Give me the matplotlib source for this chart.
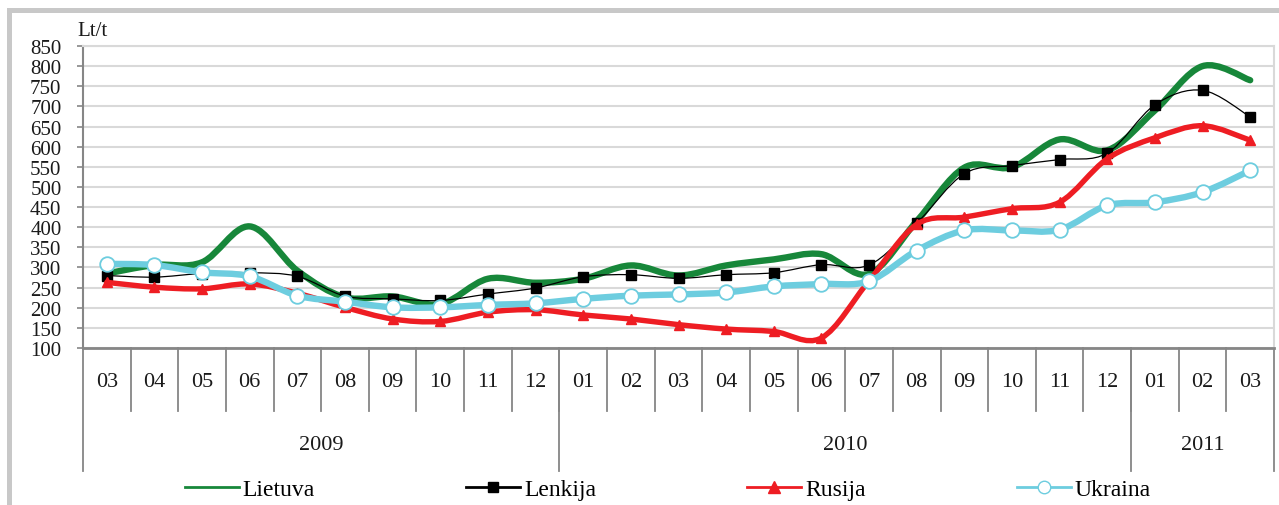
import numpy as np
import matplotlib.pyplot as plt
from matplotlib.path import Path
from matplotlib.patches import PathPatch, Rectangle
from matplotlib.lines import Line2D
import matplotlib.transforms as mtransforms

plt.rcParams['font.family'] = ['Liberation Serif', 'DejaVu Serif']

# data: prices Lt/t, 2009-03 .. 2011-03
months = ['03', '04', '05', '06', '07', '08', '09', '10', '11', '12',
          '01', '02', '03', '04', '05', '06', '07', '08', '09', '10', '11', '12',
          '01', '02', '03']
years = ['2009'] * 10 + ['2010'] * 12 + ['2011'] * 3

lietuva = [285, 306, 313, 402, 292, 226, 228, 209, 272, 262,
           272, 305, 280, 305, 320, 333, 284, 415,
           548, 549, 618, 591, 690, 800, 765]
lenkija = [280, 276, 285, 287, 278, 229, 222, 218, 234, 249,
           277, 282, 273, 282, 287, 307, 306, 410,
           533, 553, 568, 584, 704, 740, 674]
rusija = [263, 251, 247, 259, 236, 201, 172, 166, 189, 195,
          182, 172, 158, 147, 141, 125, 267, 407,
          425, 446, 462, 570, 622, 652, 616]
ukraina = [309, 306, 288, 278, 230, 215, 201, 201, 207, 211,
           222, 230, 233, 238, 253, 259, 266, 342,
           392, 392, 394, 454, 462, 487, 541]

C_GREEN = '#17873a'
C_RED = '#ee1d23'
C_CYAN = '#6dcddf'


def smooth_path(y):
    # bezier through the points, like the "smoothed line" of spreadsheet charts
    x = np.arange(len(y), dtype=float)
    y = np.asarray(y, dtype=float)
    pts = np.column_stack([x, y])
    verts = [pts[0]]
    codes = [Path.MOVETO]
    n = len(pts)
    for i in range(n - 1):
        p0 = pts[i - 1] if i > 0 else pts[i]
        p3 = pts[i + 2] if i + 2 < n else pts[i + 1]
        c1 = pts[i] + (pts[i + 1] - p0) / 6.0
        c2 = pts[i + 1] - (p3 - pts[i]) / 6.0
        verts += [c1, c2, pts[i + 1]]
        codes += [Path.CURVE4] * 3
    return Path(verts, codes)


fig = plt.figure(figsize=(12.79, 5.06), dpi=100)
ax = fig.add_axes([83 / 1279, 157 / 506, 1191 / 1279, 302 / 506])

x = np.arange(len(months))

series = [
    (lietuva, C_GREEN, 4.6, None, {}),
    (lenkija, 'black', 0.9, 's', dict(ms=7, mfc='black', mec='black')),
    (rusija, C_RED, 3.9, '^', dict(ms=6.5, mfc=C_RED, mec=C_RED)),
    (ukraina, C_CYAN, 4.6, 'o', dict(ms=10.5, mfc='white', mec=C_CYAN, mew=1.3)),
]
for k, (vals, col, lw, mk, mkw) in enumerate(series):
    ax.add_patch(PathPatch(smooth_path(vals), fill=False, edgecolor=col,
                           lw=lw, capstyle='round', joinstyle='round', zorder=3 + k))
    if mk:
        ax.plot(x, vals, linestyle='none', marker=mk, zorder=3 + k + 0.5, **mkw)

ax.set_xlim(-0.5, len(months) - 0.5)
ax.set_ylim(100, 850)
ax.set_yticks(np.arange(100, 851, 50))
ax.yaxis.grid(True, color='#d9d9d9', lw=1.5)
ax.set_axisbelow(True)
ax.tick_params(axis='y', length=4.5, width=1.2, color='#868686', pad=11,
               labelsize=15, labelcolor='#1a1a1a')
ax.set_xticks([])

for s in ['top', 'right']:
    ax.spines[s].set_color('#d9d9d9')
    ax.spines[s].set_linewidth(1.5)
ax.spines['left'].set_color('#868686')
ax.spines['left'].set_linewidth(1.5)
ax.spines['bottom'].set_color('#868686')
ax.spines['bottom'].set_linewidth(2)

ax.text(-0.005, 1.02, 'Lt/t', transform=ax.transAxes, ha='left', va='bottom',
        fontsize=15, color='#1a1a1a')

# two-level category axis
trans = mtransforms.blended_transform_factory(ax.transData, ax.transAxes)
for i in range(1, len(months)):
    ax.plot([i - 0.5, i - 0.5], [0, -0.209], color='#868686', lw=1.3,
            transform=trans, clip_on=False)
for i, m in enumerate(months):
    ax.text(i, -0.112, m, transform=trans, ha='center', va='center',
            fontsize=16, color='#1a1a1a')

bounds = [-0.5]
for i in range(1, len(years)):
    if years[i] != years[i - 1]:
        bounds.append(i - 0.5)
bounds.append(len(years) - 0.5)
for b in bounds:
    ax.plot([b, b], [0, -0.407], color='#868686', lw=1.3,
            transform=trans, clip_on=False)
for a, b in zip(bounds[:-1], bounds[1:]):
    ax.text((a + b) / 2, -0.318, years[int(a + 0.5)], transform=trans,
            ha='center', va='center', fontsize=16, color='#1a1a1a')

handles = [
    Line2D([], [], color=C_GREEN, lw=2),
    Line2D([], [], color='black', lw=2, marker='s', ms=7.5),
    Line2D([], [], color=C_RED, lw=2, marker='^', ms=8),
    Line2D([], [], color=C_CYAN, lw=2, marker='o', ms=9, mfc='white', mec=C_CYAN),
]
ax.legend(handles, ['Lietuva', 'Lenkija', 'Rusija', 'Ukraina'], ncol=4,
          loc='center', bbox_to_anchor=(0.491, -0.467), frameon=False,
          fontsize=17, handlelength=2.3, handletextpad=0.15,
          columnspacing=6.4, borderaxespad=0)

# outer light-grey frame (top and left)
fig.add_artist(Rectangle((7 / 1279, 492 / 506), 1 - 7 / 1279, 5 / 506,
                         transform=fig.transFigure, color='#c8c8c8', lw=0))
fig.add_artist(Rectangle((7 / 1279, 0), 5 / 1279, 497 / 506,
                         transform=fig.transFigure, color='#c8c8c8', lw=0))

fig.savefig('out.png', dpi=100)
